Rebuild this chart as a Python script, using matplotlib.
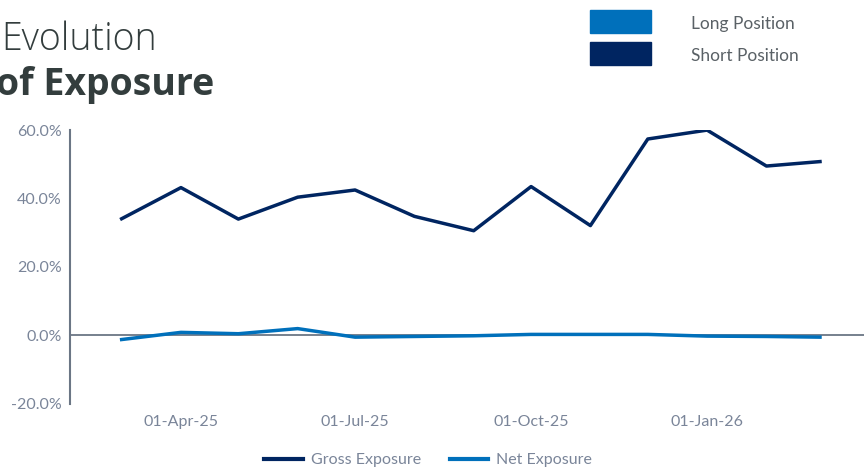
import matplotlib
matplotlib.use("Agg")
import matplotlib.pyplot as plt
import matplotlib.dates as mdates
from matplotlib.patches import Rectangle
from matplotlib.lines import Line2D
import numpy as np
import pandas as pd

plt.rcParams["font.family"] = ["Lato", "DejaVu Sans"]

dates = ["2025-03-01", "2025-04-01", "2025-05-01", "2025-06-01", "2025-07-01",
         "2025-08-01", "2025-09-01", "2025-10-01", "2025-11-01", "2025-12-01",
         "2026-01-01", "2026-02-01", "2026-03-01"]
gross = [34.1, 43.2, 34.0, 40.4, 42.5, 34.8, 30.6, 43.5, 32.1, 57.4, 60.0, 49.5, 50.8]
net = [-1.2, 0.9, 0.5, 2.0, -0.5, -0.3, -0.1, 0.3, 0.3, 0.3, -0.2, -0.3, -0.5]
tick_dates = ["2025-04-01", "2025-07-01", "2025-10-01", "2026-01-01"]
yticks = [-20, 0, 20, 40, 60]

gross_col = "#002561"
net_col = "#0070bb"
axis_col = "#6b7685"
tick_col = "#7a8599"
title_col = "#333d3d"

x = pd.to_datetime(dates)

fig = plt.figure(figsize=(8.64, 4.68), dpi=100)
ax = fig.add_axes([0.081, 0.137, 0.919, 0.585])

ax.plot(x, gross, color=gross_col, lw=2.5)
ax.plot(x, net, color=net_col, lw=2.5)
ax.axhline(0, color=axis_col, lw=1.3, zorder=1)

ax.set_xlim(pd.Timestamp("2025-02-02"), pd.Timestamp("2026-03-24"))
ax.set_ylim(-20, 60)
ax.set_yticks(yticks)
ax.set_yticklabels([f"{v:.1f}%" for v in yticks])
ax.set_xticks(pd.to_datetime(tick_dates))
ax.xaxis.set_major_formatter(mdates.DateFormatter("%d-%b-%y"))
ax.tick_params(length=0, labelsize=11.5, colors=tick_col, pad=6)
ax.tick_params(axis="x", pad=8)

for s in ["top", "right", "bottom"]:
    ax.spines[s].set_visible(False)
ax.spines["left"].set_color(axis_col)
ax.spines["left"].set_linewidth(1.5)

# title, cut off at the left edge like the original
fig.text(157 / 864, 1 - 50 / 468, "Evolution", ha="right", va="baseline",
         fontsize=27, fontweight="light", color=title_col, family="Open Sans")
fig.text(214 / 864, 1 - 95 / 468, "of Exposure", ha="right", va="baseline",
         fontsize=27, fontweight="bold", color=title_col, family="Open Sans")

# top right legend
for i, (lab, col) in enumerate([("Long Position", net_col), ("Short Position", gross_col)]):
    y0 = 10 + i * 32
    fig.patches.append(Rectangle((590 / 864, 1 - (y0 + 23) / 468), 61 / 864, 23 / 468,
                                 transform=fig.transFigure, color=col))
    fig.text(691 / 864, 1 - (y0 + 14) / 468, lab, ha="left", va="center",
             fontsize=12.5, color="#5a6166")

# bottom legend
handles = [Line2D([], [], color=gross_col, lw=3), Line2D([], [], color=net_col, lw=3)]
fig.legend(handles, ["Gross Exposure", "Net Exposure"], loc="center",
           bbox_to_anchor=(428 / 864, 1 - 460 / 468), ncol=2, frameon=False,
           fontsize=11.5, labelcolor=tick_col, handlelength=2.4, handletextpad=0.5,
           columnspacing=1.8)

fig.savefig("out.png", dpi=100)
